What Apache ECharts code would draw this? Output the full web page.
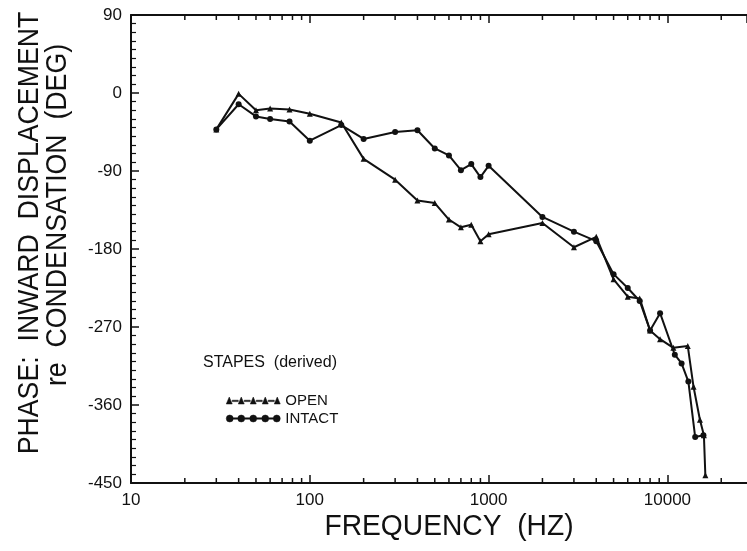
<!DOCTYPE html>
<html lang="en">
    <head>
        <meta charset="utf-8">
        <script src="https://cdn.jsdelivr.net/npm/echarts@6/dist/echarts.min.js"></script>
        <style>
            html, body { margin: 0; padding: 0; background: #fff; }
        </style>
    </head>
    <body>
    <div id="main" style="width:747px;height:551px"></div>
    <script type="text/javascript">
    // values (frequency in Hz, phase in degrees)
    var freqOpen = [30, 40, 50, 60, 77, 100, 150, 200, 300, 400, 500, 600, 700, 800, 900, 1000,
        2000, 3000, 4000, 5000, 6000, 7000, 8000, 9100, 10800, 13000, 14000, 15200, 16000, 16300];
    var phaseOpen = [-42, -1, -20, -18, -19, -24, -34, -76, -100, -124, -127, -146, -155, -152, -171, -163,
        -150, -178, -166, -215, -235, -237, -274, -284, -294, -292, -339, -377, -395, -441];

    var freqIntact = [30, 40, 50, 60, 77, 100, 150, 200, 300, 400, 500, 600, 700, 800, 900, 1000,
        2000, 3000, 4000, 5000, 6000, 7000, 8000, 9100, 11000, 12000, 13100, 14300, 15900];
    var phaseIntact = [-42, -13, -27, -30, -33, -55, -37, -53, -45, -43, -64, -72, -89, -82, -97, -84,
        -143, -160, -171, -209, -225, -240, -274, -254, -302, -312, -333, -397, -395];

    var yTicks = [90, 0, -90, -180, -270, -360, -450];
    var xLabels = [10, 100, 1000, 10000];
    var xMinorTicks = [20, 30, 40, 50, 60, 70, 80, 90, 200, 300, 400, 500, 600, 700, 800, 900,
        2000, 3000, 4000, 5000, 6000, 7000, 8000, 9000, 20000];

    var FONT = 'Liberation Sans';
    var INK = '#111';

    function pairs(xs, ys) {
        var out = [];
        for (var i = 0; i < xs.length; i++) out.push([xs[i], ys[i]]);
        return out;
    }

    // legend samples: short line pieces joining five markers (no overlaps, so fills stay solid)
    var openIcon = 'path://';
    var intactIcon = 'path://';
    var triX = [3, 15, 27, 39, 51];
    var dotX = [3.5, 15, 27, 39, 50.5];
    triX.forEach(function (cx, i) {
        openIcon += 'M' + (cx - 3) + ',7 L' + cx + ',0 L' + (cx + 3) + ',7 Z ';
        if (i < triX.length - 1) {
            var a = cx + 3, b = triX[i + 1] - 3;
            openIcon += 'M' + a + ',3.2 L' + b + ',3.2 L' + b + ',4.6 L' + a + ',4.6 Z ';
        }
    });
    dotX.forEach(function (cx, i) {
        intactIcon += 'M' + (cx - 3.5) + ',3.5 A3.5,3.5 0 1,1 ' + (cx + 3.5) + ',3.5 A3.5,3.5 0 1,1 ' + (cx - 3.5) + ',3.5 Z ';
        if (i < dotX.length - 1) {
            var a = cx + 3.5, b = dotX[i + 1] - 3.5;
            intactIcon += 'M' + a + ',2.8 L' + b + ',2.8 L' + b + ',4.2 L' + a + ',4.2 Z ';
        }
    });

    var myChart = echarts.init(document.getElementById('main'));

    var option = {
        animation: false,
        backgroundColor: '#fff',
        title: {
            text: 'STAPES  (derived)',
            left: 203,
            top: 355,
            padding: 0,
            textStyle: { fontFamily: FONT, fontSize: 16, fontWeight: 'normal', color: INK }
        },
        legend: {
            orient: 'vertical',
            left: 226,
            top: 393,
            padding: 0,
            itemGap: 3,
            itemWidth: 54,
            itemHeight: 7,
            selectedMode: false,
            itemStyle: { color: INK, borderColor: INK, borderWidth: 0.5 },
            textStyle: { fontFamily: FONT, fontSize: 15, color: INK },
            data: [
                { name: 'OPEN', icon: openIcon },
                { name: 'INTACT', icon: intactIcon }
            ]
        },
        grid: { left: 131, right: 0, top: 15, bottom: 68 },
        xAxis: [{
            type: 'log',
            logBase: 10,
            min: 10,
            max: 27870,
            position: 'bottom',
            axisLine: { onZero: false, lineStyle: { color: INK, width: 2 } },
            axisTick: { inside: true, length: 8, lineStyle: { color: INK, width: 1.5 } },
            splitLine: { show: false },
            axisLabel: {
                margin: 9,
                fontFamily: FONT,
                fontSize: 17,
                color: INK,
                showMaxLabel: false,
                formatter: function (v) {
                    return xLabels.indexOf(Math.round(v)) >= 0 ? String(Math.round(v)) : '';
                }
            }
        }, {
            type: 'log',
            logBase: 10,
            min: 10,
            max: 27870,
            position: 'top',
            axisLine: { onZero: false, lineStyle: { color: INK, width: 2 } },
            axisTick: { inside: true, length: 8, lineStyle: { color: INK, width: 1.5 } },
            splitLine: { show: false },
            axisLabel: { show: false }
        }],
        yAxis: {
            type: 'value',
            min: yTicks[yTicks.length - 1],
            max: yTicks[0],
            interval: 90,
            axisLine: { onZero: false, lineStyle: { color: INK, width: 2 } },
            axisTick: { inside: true, length: 8, lineStyle: { color: INK, width: 1.5 } },
            minorTick: { show: true, splitNumber: 9, length: 5, lineStyle: { color: INK, width: 1.2 } },
            splitLine: { show: false },
            axisLabel: { margin: 9, fontFamily: FONT, fontSize: 17, color: INK }
        },
        graphic: [{
            type: 'text',
            x: 30,
            y: 233,
            rotation: Math.PI / 2,
            scaleX: 0.89,
            style: {
                text: 'PHASE:  INWARD  DISPLACEMENT',
                font: '30px "Liberation Sans"',
                fill: INK,
                align: 'center',
                verticalAlign: 'middle'
            }
        }, {
            type: 'text',
            x: 58,
            y: 215,
            rotation: Math.PI / 2,
            scaleX: 0.89,
            style: {
                text: 're  CONDENSATION  (DEG)',
                font: '30px "Liberation Sans"',
                fill: INK,
                align: 'center',
                verticalAlign: 'middle'
            }
        }, {
            type: 'text',
            x: 449,
            y: 527,
            scaleX: 0.94,
            style: {
                text: 'FREQUENCY  (HZ)',
                font: '30px "Liberation Sans"',
                fill: INK,
                align: 'center',
                verticalAlign: 'middle'
            }
        }],
        series: [{
            name: 'OPEN',
            type: 'line',
            data: pairs(freqOpen, phaseOpen),
            symbol: 'triangle',
            symbolSize: 6,
            color: INK,
            lineStyle: { color: INK, width: 2 },
            itemStyle: { color: INK },
            z: 3
        }, {
            name: 'INTACT',
            type: 'line',
            data: pairs(freqIntact, phaseIntact),
            symbol: 'circle',
            symbolSize: 6,
            color: INK,
            lineStyle: { color: INK, width: 2 },
            itemStyle: { color: INK },
            z: 3
        }, {
            // minor log ticks (2..9 per decade) on bottom and top axes
            name: 'minorTicks',
            type: 'custom',
            silent: true,
            data: xMinorTicks.map(function (v) { return [v, -450]; }),
            encode: { x: 0, y: 1 },
            renderItem: function (params, api) {
                var f = api.value(0);
                var b = api.coord([f, -450]);
                var t = api.coord([f, 90]);
                return {
                    type: 'group',
                    children: [{
                        type: 'line',
                        shape: { x1: b[0], y1: b[1], x2: b[0], y2: b[1] - 5 },
                        style: { stroke: INK, lineWidth: 1.5 }
                    }, {
                        type: 'line',
                        shape: { x1: t[0], y1: t[1], x2: t[0], y2: t[1] + 5 },
                        style: { stroke: INK, lineWidth: 1.5 }
                    }]
                };
            }
        }]
    };

    myChart.setOption(option);
    </script>
    </body>
</html>
